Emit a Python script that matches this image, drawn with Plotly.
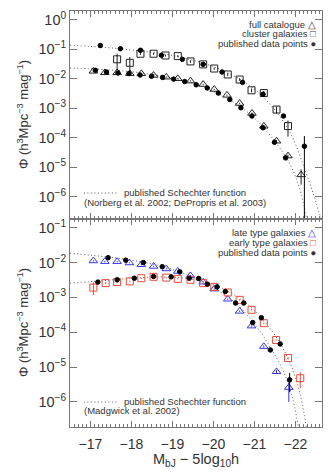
import plotly.graph_objects as go

# ---------------- data: top panel (2dFGRS full catalogue + cluster galaxies) --------------
full_M = [-17.07, -17.35, -17.65, -17.96, -18.24, -18.54, -18.85, -19.13, -19.44, -19.75,
          -20.02, -20.33, -20.64, -20.94, -21.23, -21.54, -21.82, -22.14]
full_phi = [1.82e-2, 1.62e-2, 1.62e-2, 1.51e-2, 1.51e-2, 1.32e-2, 1.15e-2, 1.02e-2, 8.5e-3, 6.5e-3,
            4.4e-3, 2.8e-3, 1.48e-3, 6.8e-4, 2.5e-4, 7.8e-5, 2.45e-5, 5.6e-6]
full_err = [8e-4, 7e-4, 7e-4, 6e-4, 6e-4, 5e-4, 5e-4, 4e-4, 4e-4, 3e-4,
            2e-4, 1.3e-4, 7e-5, 3.5e-5, 1.3e-5, 5e-6, 2.5e-6, 3.0e-6]

full_pub_M = [-17.12, -17.39, -17.67, -17.94, -18.21, -18.49, -18.76, -19.03, -19.30, -19.58,
              -19.85, -20.12, -20.40, -20.67, -20.94, -21.21, -21.49, -21.76]
full_pub_phi = [1.95e-2, 1.70e-2, 1.58e-2, 1.51e-2, 1.35e-2, 1.23e-2, 1.12e-2, 9.8e-3, 8.1e-3, 6.3e-3,
                4.9e-3, 3.3e-3, 2.0e-3, 1.05e-3, 5.5e-4, 2.2e-4, 7.1e-5, 2.1e-5]

clus_M = [-17.65, -17.96, -18.22, -18.54, -18.83, -19.13, -19.44, -19.75, -20.02, -20.35,
          -20.64, -20.93, -21.23, -21.54, -21.82]
clus_phi = [4.6e-2, 3.5e-2, 7.1e-2, 7.1e-2, 6.2e-2, 5.9e-2, 3.9e-2, 3.1e-2, 2.24e-2, 1.41e-2,
            9.5e-3, 4.1e-3, 3.3e-3, 9.1e-4, 2.5e-4]
clus_err = [2.6e-2, 2.0e-2, 6e-3, 6e-3, 5e-3, 5e-3, 4e-3, 3e-3, 2e-3, 1.5e-3,
            1e-3, 6e-4, 6e-4, 2.5e-4, 1.4e-4]

clus_pub_M = [-17.24, -17.73, -18.22, -18.73, -19.24, -19.75, -20.21, -20.71, -21.21, -21.71, -22.22]
clus_pub_phi = [1.35e-1, 1.05e-1, 9.3e-2, 6.3e-2, 4.6e-2, 3.1e-2, 1.70e-2, 7.6e-3, 3.0e-3, 5.5e-4, 5.2e-5]
clus_pub_err_up = [0, 0, 0, 0, 0, 0, 0, 0, 0, 0, 6.3e-5]
clus_pub_err_dn = [0, 0, 0, 0, 0, 0, 0, 0, 0, 0, 5.19e-5]

# published Schechter functions
sch_clus_M = [-16.5, -17.0, -17.5, -18.0, -18.5, -19.0, -19.5, -20.0, -20.5, -21.0,
              -21.5, -21.9, -22.2, -22.45, -22.66]
sch_clus_phi = [1.38e-1, 1.26e-1, 1.12e-1, 9.5e-2, 7.9e-2, 6.2e-2, 4.3e-2, 2.6e-2, 1.26e-2, 4.5e-3,
                8.9e-4, 1.26e-4, 1.12e-5, 1.12e-6, 1.26e-7]
sch_full_M = [-16.5, -17.0, -17.5, -18.0, -18.5, -19.0, -19.5, -20.0, -20.5, -21.0,
              -21.5, -21.8, -22.0, -22.15, -22.28]
sch_full_phi = [2.34e-2, 2.19e-2, 2.0e-2, 1.74e-2, 1.41e-2, 1.07e-2, 7.1e-3, 3.8e-3, 1.58e-3, 4.7e-4,
                7.6e-5, 1.9e-5, 5.0e-6, 1.12e-6, 1.58e-7]

# ---------------- data: bottom panel (late / early types) ----------------
late_M = [-17.07, -17.35, -17.65, -17.95, -18.24, -18.54, -18.85, -19.13, -19.44, -19.75,
          -20.02, -20.35, -20.64, -20.93, -21.23, -21.54, -21.84]
late_phi = [1.12e-2, 1.07e-2, 1.07e-2, 9.8e-3, 8.7e-3, 7.8e-3, 6.6e-3, 5.6e-3, 4.2e-3, 2.75e-3,
            1.74e-3, 8.9e-4, 4.0e-4, 1.51e-4, 3.9e-5, 7.4e-6, 2.6e-6]
late_err = [5e-4, 5e-4, 5e-4, 4e-4, 4e-4, 3e-4, 3e-4, 2.5e-4, 2e-4, 1.2e-4,
            8e-5, 4e-5, 2e-5, 8e-6, 3e-6, 1e-6, 1.6e-6]

early_M = [-17.07, -17.37, -17.65, -17.96, -18.24, -18.54, -18.85, -19.13, -19.44, -19.75,
           -20.02, -20.35, -20.64, -20.93, -21.23, -21.53, -21.82, -22.12]
early_phi = [1.91e-3, 2.57e-3, 2.75e-3, 2.88e-3, 3.55e-3, 3.9e-3, 3.7e-3, 3.4e-3, 3.2e-3, 2.57e-3,
             2.0e-3, 1.38e-3, 8.5e-4, 4.4e-4, 1.82e-4, 6.0e-5, 1.82e-5, 4.8e-6]
early_err = [7.5e-4, 1.5e-4, 1.3e-4, 1.3e-4, 1.5e-4, 1.6e-4, 1.5e-4, 1.4e-4, 1.3e-4, 1.1e-4,
             9e-5, 6e-5, 4e-5, 2e-5, 9e-6, 3e-6, 1.2e-6, 2.3e-6]

late_pub_M = [-17.43, -17.86, -18.29, -18.75, -19.18, -19.64, -20.09, -20.54, -20.96, -21.39, -21.86]
late_pub_phi = [1.38e-2, 1.17e-2, 1.0e-2, 7.6e-3, 5.4e-3, 3.5e-3, 2.0e-3, 6.9e-4, 1.9e-4, 3.1e-5, 4.3e-6]
late_pub_err = [0, 0, 0, 0, 0, 0, 0, 0, 0, 0, 2.4e-6]

early_pub_M = [-17.18, -17.65, -18.07, -18.54, -18.97, -19.41, -19.85, -20.29, -20.74, -21.17, -21.63]
early_pub_phi = [2.75e-3, 3.2e-3, 3.55e-3, 4.0e-3, 3.9e-3, 3.55e-3, 2.4e-3, 1.48e-3, 6.9e-4, 2.6e-4, 4.6e-5]

sch_late_M = [-16.5, -17.0, -17.5, -18.0, -18.5, -19.0, -19.5, -20.0, -20.5, -21.0,
              -21.4, -21.7, -21.9, -22.08]
sch_late_phi = [1.86e-2, 1.62e-2, 1.41e-2, 1.17e-2, 9.1e-3, 6.3e-3, 3.8e-3, 1.9e-3, 7.6e-4, 1.78e-4,
                3.5e-5, 7.9e-6, 1.78e-6, 1.78e-7]
sch_early_M = [-16.5, -17.0, -17.5, -18.0, -18.5, -19.0, -19.5, -20.0, -20.5, -21.0,
               -21.5, -21.8, -22.0, -22.15, -22.27]
sch_early_phi = [2.57e-3, 2.82e-3, 3.16e-3, 3.55e-3, 3.8e-3, 3.8e-3, 3.3e-3, 2.34e-3, 1.2e-3, 4.2e-4,
                 8.3e-5, 2.0e-5, 5.0e-6, 1.12e-6, 1.78e-7]

x_tickvals = [-17, -18, -19, -20, -21, -22]
x_ticktext = ["\u221217", "\u221218", "\u221219", "\u221220", "\u221221", "\u221222"]
top_tickvals = [1e0, 1e-1, 1e-2, 1e-3, 1e-4, 1e-5, 1e-6]
top_ticktext = ["10<sup>0</sup>", "10<sup>\u22121</sup>", "10<sup>\u22122</sup>", "10<sup>\u22123</sup>",
                "10<sup>\u22124</sup>", "10<sup>\u22125</sup>", "10<sup>\u22126</sup>"]
bot_tickvals = [1e-1, 1e-2, 1e-3, 1e-4, 1e-5, 1e-6]
bot_ticktext = top_ticktext[1:]

# ---------------- styling ----------------
FONT = "Liberation Sans, Arial, sans-serif"
AX = "#777777"
TXT = "#333333"
BLUE = "#3535e6"
RED = "#ec4b3a"
CURVE = "#555555"
DOT = "1px,2.5px"

fig = go.Figure()

def curve(x, y, xa, ya):
    fig.add_trace(go.Scatter(x=x, y=y, mode="lines", line=dict(color=CURVE, width=1, dash=DOT, shape="spline"),
                             xaxis=xa, yaxis=ya, showlegend=False, hoverinfo="skip"))

def points(x, y, xa, ya, symbol, color, size, err=None, errm=None):
    ey = None
    if err is not None:
        ey = dict(type="data", array=err, arrayminus=errm if errm is not None else err,
                  visible=True, color=color, thickness=1, width=0)
    fig.add_trace(go.Scatter(x=x, y=y, mode="markers", xaxis=xa, yaxis=ya, showlegend=False,
                             marker=dict(symbol=symbol, size=size, color=color,
                                         line=dict(color=color, width=1)),
                             error_y=ey))

# top panel
curve(sch_clus_M, sch_clus_phi, "x", "y")
curve(sch_full_M, sch_full_phi, "x", "y")
points(full_M, full_phi, "x", "y", "triangle-up-open", "#222222", 7.5, full_err)
points(clus_M, clus_phi, "x", "y", "square-open", "#222222", 7, clus_err)
points(full_pub_M, full_pub_phi, "x", "y", "circle", "black", 4.5)
points(clus_pub_M, clus_pub_phi, "x", "y", "circle", "black", 4.5, clus_pub_err_up, clus_pub_err_dn)

# bottom panel
curve(sch_late_M, sch_late_phi, "x2", "y2")
curve(sch_early_M, sch_early_phi, "x2", "y2")
points(late_M, late_phi, "x2", "y2", "triangle-up-open", BLUE, 7.5, late_err)
points(early_M, early_phi, "x2", "y2", "square-open", RED, 7, early_err)
points(late_pub_M, late_pub_phi, "x2", "y2", "circle", "black", 4.5, late_pub_err)
points(early_pub_M, early_pub_phi, "x2", "y2", "circle", "black", 4.5)

common_x = dict(range=[-16.5, -22.65], showline=True, linecolor=AX, linewidth=1, mirror="allticks",
                ticks="inside", ticklen=6, tickcolor=AX, tickvals=x_tickvals,
                minor=dict(ticks="inside", ticklen=3, dtick=0.1, tick0=0, tickcolor=AX),
                showgrid=False, zeroline=False)
common_y = dict(type="log", showline=True, linecolor=AX, linewidth=1, mirror="allticks",
                ticks="inside", ticklen=7, tickcolor=AX, showgrid=False, zeroline=False,
                tickfont=dict(family=FONT, size=14.5, color=TXT))

fig.update_layout(
    width=328, height=472,
    margin=dict(l=70, r=6, t=11, b=45),
    paper_bgcolor="white", plot_bgcolor="white",
    font=dict(family=FONT, color=TXT),
    xaxis=dict(**common_x, anchor="y", showticklabels=False),
    yaxis=dict(**common_y, domain=[0.5, 1.0], anchor="x", range=[-6.75, 0.3],
               tickvals=top_tickvals, ticktext=top_ticktext),
    xaxis2=dict(**common_x, anchor="y2", matches="x", ticktext=x_ticktext, showticklabels=True,
                tickfont=dict(family=FONT, size=14, color=TXT), ticklabelstandoff=4),
    yaxis2=dict(**common_y, domain=[0.0, 0.5], anchor="x2", range=[-6.72, -0.75],
                tickvals=bot_tickvals, ticktext=bot_ticktext),
)

ann = []
lf = dict(family=FONT, size=9.5, color=TXT)
# top legend
for txt, yy in [("full catalogue \u25B3", 0.9375), ("cluster galaxies \u25A1", 0.892),
                ("published data points \u25CF", 0.846)]:
    ann.append(dict(text=txt, xref="x domain", yref="y domain", x=0.98, y=yy, xanchor="right",
                    yanchor="middle", showarrow=False, font=lf, borderpad=0))
# bottom legend
for txt, yy in [("late type galaxies <span style='color:%s'>\u25B3</span>" % BLUE, 0.933),
                ("early type galaxies <span style='color:%s'>\u25A1</span>" % RED, 0.886),
                ("published data points \u25CF", 0.839)]:
    ann.append(dict(text=txt, xref="x2 domain", yref="y2 domain", x=0.98, y=yy, xanchor="right",
                    yanchor="middle", showarrow=False, font=lf, borderpad=0))
# Schechter labels
ann.append(dict(text="published Schechter function", xref="x domain", yref="y domain", x=0.21, y=0.127,
                xanchor="left", yanchor="middle", showarrow=False, font=lf, borderpad=0))
ann.append(dict(text="(Norberg et al. 2002; DePropris et al. 2003)", xref="x domain", yref="y domain",
                x=0.05, y=0.08, xanchor="left", yanchor="middle", showarrow=False, font=lf, borderpad=0))
ann.append(dict(text="published Schechter function", xref="x2 domain", yref="y2 domain", x=0.21, y=0.123,
                xanchor="left", yanchor="middle", showarrow=False, font=lf, borderpad=0))
ann.append(dict(text="(Madgwick et al. 2002)", xref="x2 domain", yref="y2 domain",
                x=0.05, y=0.078, xanchor="left", yanchor="middle", showarrow=False, font=lf, borderpad=0))
# axis titles
ytitle = "\u03A6 (h<sup>3</sup>Mpc<sup>\u22123</sup> mag<sup>\u22121</sup>)"
ann.append(dict(text=ytitle, xref="paper", yref="y domain", x=0, y=0.5, xshift=-57, textangle=-90,
                showarrow=False, font=dict(family=FONT, size=13, color=TXT)))
ann.append(dict(text=ytitle, xref="paper", yref="y2 domain", x=0, y=0.5, xshift=-57, textangle=-90,
                showarrow=False, font=dict(family=FONT, size=13, color=TXT)))
ann.append(dict(text="M<sub>bJ</sub> \u2212 5log<sub>10</sub>h", xref="paper", yref="paper", x=0.5, y=0,
                yshift=-33, yanchor="middle", showarrow=False, font=dict(family=FONT, size=14.5, color=TXT)))
fig.update_layout(annotations=ann)

fig.update_layout(shapes=[
    dict(type="line", xref="x domain", yref="y domain", x0=0.055, x1=0.19, y0=0.125, y1=0.125,
         line=dict(color=CURVE, width=1, dash=DOT)),
    dict(type="line", xref="x2 domain", yref="y2 domain", x0=0.055, x1=0.19, y0=0.12, y1=0.12,
         line=dict(color=CURVE, width=1, dash=DOT)),
])

fig.write_html("out.html")
